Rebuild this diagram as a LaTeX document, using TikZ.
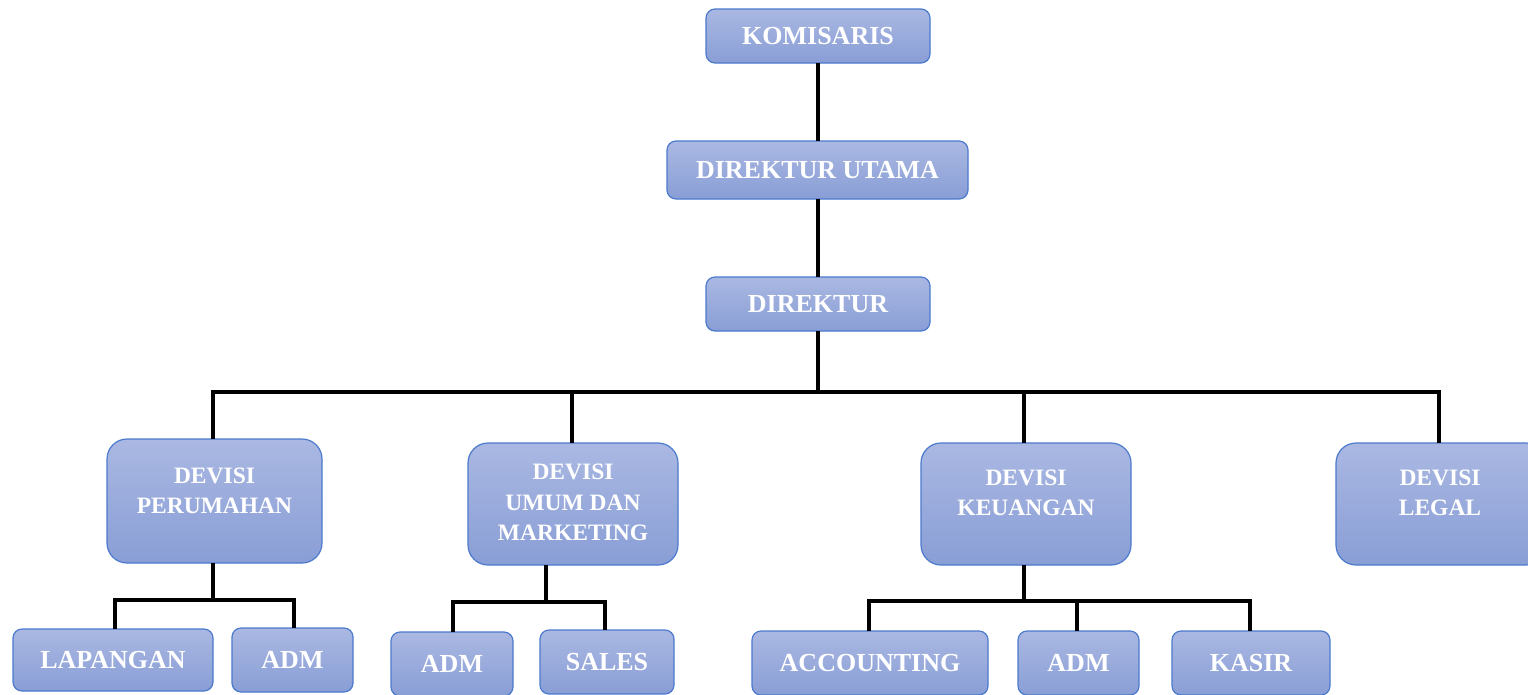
\documentclass[tikz,border=0pt]{standalone}
\usepackage{fontspec}
\setmainfont{Liberation Serif}
\definecolor{boxtop}{RGB}{170,184,226}
\definecolor{boxbot}{RGB}{137,158,214}
\definecolor{boxline}{RGB}{76,122,204}
\tikzset{
  orgbox/.style={draw=boxline, line width=1.2pt, top color=boxtop, bottom color=boxbot,
    rounded corners=9pt, inner sep=0pt, outer sep=0pt, text=white,
    font=\fontsize{26}{30}\selectfont\bfseries},
  divbox/.style={orgbox, rounded corners=20pt},
  divtext/.style={text=white, align=center, inner sep=0pt,
    font=\fontsize{23.5}{30.5}\selectfont\bfseries},
  conn/.style={line width=3.8pt, black, line join=miter}
}
\begin{document}
\begin{tikzpicture}[x=1pt,y=-1pt]
\useasboundingbox (0,0) rectangle (1528,694);
\fill[white] (0,0) rectangle (1528,694);
% top chain
\node[orgbox, minimum width=224pt, minimum height=54pt] (kom) at (818,36) {KOMISARIS};
\node[orgbox, minimum width=301pt, minimum height=58pt] (dirut) at (817.5,170) {DIREKTUR UTAMA};
\node[orgbox, minimum width=224pt, minimum height=54pt] (dir) at (818,304) {DIREKTUR};
% divisions
\node[divbox, minimum width=215pt, minimum height=124pt] (perum) at (214.5,501) {};
\node[divbox, minimum width=210pt, minimum height=122pt] (umum) at (573,504) {};
\node[divbox, minimum width=210pt, minimum height=122pt] (keu) at (1026,504) {};
\node[divbox, minimum width=210pt, minimum height=122pt] (legal) at (1441,504) {};
\node[divtext] (perumT) at ([yshift=10pt]perum.center) {DEVISI\\PERUMAHAN};
\node[divtext] (umumT) at ([yshift=1.5pt]umum.center) {DEVISI\\UMUM DAN\\MARKETING};
\node[divtext] (keuT) at ([yshift=11pt]keu.center) {DEVISI\\KEUANGAN};
\node[divtext] (legalT) at ([yshift=11pt, xshift=-1pt]legal.center) {DEVISI\\LEGAL};
% bottom boxes
\node[orgbox, minimum width=200pt, minimum height=62pt] (lap) at (113,660) {LAPANGAN};
\node[orgbox, minimum width=121pt, minimum height=64pt] (adma) at (292.5,660) {ADM};
\node[orgbox, minimum width=122pt, minimum height=64pt] (admb) at (452,664) {ADM};
\node[orgbox, minimum width=134pt, minimum height=64pt] (sales) at (607,662) {SALES};
\node[orgbox, minimum width=236pt, minimum height=64pt] (acc) at (870,663) {ACCOUNTING};
\node[orgbox, minimum width=121pt, minimum height=64pt] (admc) at (1078.5,663) {ADM};
\node[orgbox, minimum width=158pt, minimum height=64pt] (kasir) at (1251,663) {KASIR};
% connectors top
\draw[conn] (kom.south) -- (kom.south |- dirut.north);
\draw[conn] (dir.north |- dirut.south) -- (dir.north);
\coordinate (bus) at (818,392);
\draw[conn] (dir.south) -- (bus);
\draw[conn] ([xshift=-1.5pt]perum.north) |- (bus) -| ([xshift=-2pt]legal.north);
\draw[conn] ([xshift=-1pt]umum.north) |- (bus);
\draw[conn] ([xshift=-2pt]keu.north) |- (bus);
% perumahan children
\coordinate (pb) at (213,600);
\draw[conn] (pb |- perum.south) -- (pb);
\draw[conn] ([xshift=2pt]lap.north) |- (pb) -| ([xshift=1.5pt]adma.north);
% umum children
\coordinate (ub) at (546,602);
\draw[conn] (ub |- umum.south) -- (ub);
\draw[conn] ([xshift=1pt]admb.north) |- (ub) -| ([xshift=-2pt]sales.north);
% keuangan children
\coordinate (kb) at (1024,601);
\draw[conn] (kb |- keu.south) -- (kb);
\draw[conn] ([xshift=-1pt]acc.north) |- (kb) -| ([xshift=-1pt]kasir.north);
\draw[conn] ([xshift=-1.5pt]admc.north) -- ([xshift=-1.5pt]admc.north |- kb);
\end{tikzpicture}
\end{document}
